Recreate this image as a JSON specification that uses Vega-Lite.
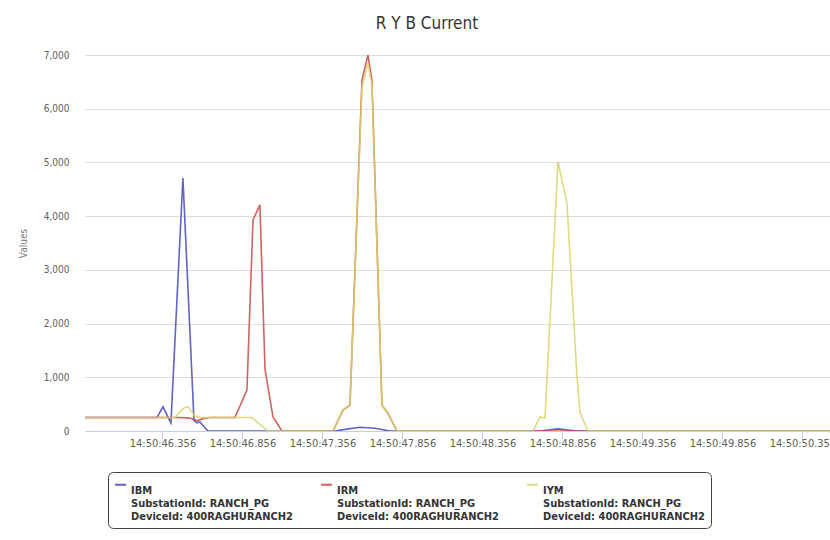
{
  "$schema": "https://vega.github.io/schema/vega-lite/v6.json",
  "width": 745,
  "height": 376,
  "autosize": {"type": "none"},
  "padding": {"left": 85, "top": 55, "right": 0, "bottom": 109},
  "background": "white",
  "title": {
    "text": "R Y B Current",
    "fontSize": 17,
    "font": "DejaVu Sans Condensed, Roboto, sans-serif",
    "fontWeight": "normal",
    "color": "#333333",
    "anchor": "middle",
    "frame": "bounds",
    "offset": 17
  },
  "data": {
    "values": [
      {"t": 45.872, "series": "IBM", "v": 250},
      {"t": 46.322, "series": "IBM", "v": 250},
      {"t": 46.359, "series": "IBM", "v": 450},
      {"t": 46.409, "series": "IBM", "v": 150},
      {"t": 46.484, "series": "IBM", "v": 4710},
      {"t": 46.553, "series": "IBM", "v": 200},
      {"t": 46.572, "series": "IBM", "v": 150},
      {"t": 46.590, "series": "IBM", "v": 170},
      {"t": 46.640, "series": "IBM", "v": 0},
      {"t": 47.434, "series": "IBM", "v": 0},
      {"t": 47.497, "series": "IBM", "v": 30},
      {"t": 47.590, "series": "IBM", "v": 70},
      {"t": 47.684, "series": "IBM", "v": 50},
      {"t": 47.778, "series": "IBM", "v": 0},
      {"t": 48.715, "series": "IBM", "v": 0},
      {"t": 48.765, "series": "IBM", "v": 20},
      {"t": 48.828, "series": "IBM", "v": 40},
      {"t": 48.890, "series": "IBM", "v": 20},
      {"t": 48.953, "series": "IBM", "v": 0},
      {"t": 50.528, "series": "IBM", "v": 0},

      {"t": 45.872, "series": "IRM", "v": 250},
      {"t": 46.465, "series": "IRM", "v": 250},
      {"t": 46.528, "series": "IRM", "v": 240},
      {"t": 46.572, "series": "IRM", "v": 190},
      {"t": 46.609, "series": "IRM", "v": 230},
      {"t": 46.653, "series": "IRM", "v": 250},
      {"t": 46.809, "series": "IRM", "v": 250},
      {"t": 46.884, "series": "IRM", "v": 760},
      {"t": 46.922, "series": "IRM", "v": 3930},
      {"t": 46.965, "series": "IRM", "v": 4210},
      {"t": 46.997, "series": "IRM", "v": 1150},
      {"t": 47.047, "series": "IRM", "v": 260},
      {"t": 47.103, "series": "IRM", "v": 0},
      {"t": 47.422, "series": "IRM", "v": 0},
      {"t": 47.484, "series": "IRM", "v": 390},
      {"t": 47.528, "series": "IRM", "v": 480},
      {"t": 47.603, "series": "IRM", "v": 6530},
      {"t": 47.640, "series": "IRM", "v": 7000},
      {"t": 47.665, "series": "IRM", "v": 6540},
      {"t": 47.728, "series": "IRM", "v": 480},
      {"t": 47.765, "series": "IRM", "v": 330},
      {"t": 47.822, "series": "IRM", "v": 0},
      {"t": 50.528, "series": "IRM", "v": 0},

      {"t": 45.872, "series": "IYM", "v": 250},
      {"t": 46.434, "series": "IYM", "v": 250},
      {"t": 46.484, "series": "IYM", "v": 420},
      {"t": 46.515, "series": "IYM", "v": 450},
      {"t": 46.559, "series": "IYM", "v": 280},
      {"t": 46.590, "series": "IYM", "v": 250},
      {"t": 46.915, "series": "IYM", "v": 250},
      {"t": 47.015, "series": "IYM", "v": 0},
      {"t": 47.422, "series": "IYM", "v": 0},
      {"t": 47.484, "series": "IYM", "v": 390},
      {"t": 47.528, "series": "IYM", "v": 480},
      {"t": 47.603, "series": "IYM", "v": 6400},
      {"t": 47.640, "series": "IYM", "v": 6850},
      {"t": 47.665, "series": "IYM", "v": 6450},
      {"t": 47.728, "series": "IYM", "v": 480},
      {"t": 47.765, "series": "IYM", "v": 330},
      {"t": 47.822, "series": "IYM", "v": 0},
      {"t": 48.672, "series": "IYM", "v": 0},
      {"t": 48.715, "series": "IYM", "v": 260},
      {"t": 48.747, "series": "IYM", "v": 240},
      {"t": 48.828, "series": "IYM", "v": 5010},
      {"t": 48.884, "series": "IYM", "v": 4250},
      {"t": 48.947, "series": "IYM", "v": 1000},
      {"t": 48.965, "series": "IYM", "v": 350},
      {"t": 49.015, "series": "IYM", "v": 0},
      {"t": 50.528, "series": "IYM", "v": 0}
    ]
  },
  "mark": {"type": "line", "strokeWidth": 1.6, "opacity": 0.85, "clip": true},
  "encoding": {
    "x": {
      "field": "t",
      "type": "quantitative",
      "title": null,
      "scale": {"domain": [45.872, 50.528], "nice": false, "zero": false},
      "axis": {
        "values": [46.356, 46.856, 47.356, 47.856, 48.356, 48.856, 49.356, 49.856, 50.356],
        "labelExpr": "'14:50:' + format(datum.value, '.3f')",
        "labelFont": "DejaVu Sans Condensed, Roboto, sans-serif",
        "labelFontSize": 11,
        "labelColor": "#606060",
        "labelPadding": -2,
        "labelFlush": false,
        "labelOverlap": false,
        "labelBound": false,
        "grid": false,
        "domainColor": "#c0d0e0",
        "tickColor": "#c0d0e0",
        "tickSize": 8
      }
    },
    "y": {
      "field": "v",
      "type": "quantitative",
      "title": "Values",
      "scale": {"domain": [0, 7000], "nice": false},
      "axis": {
        "values": [0, 1000, 2000, 3000, 4000, 5000, 6000, 7000],
        "format": ",d",
        "labelFont": "DejaVu Sans Condensed, Roboto, sans-serif",
        "labelFontSize": 10,
        "labelColor": "#606060",
        "labelPadding": 16,
        "ticks": false,
        "domain": false,
        "gridColor": "#dcdcdc",
        "titleFont": "DejaVu Sans Condensed, Roboto, sans-serif",
        "titleFontSize": 10,
        "titleFontWeight": "normal",
        "titleColor": "#777777",
        "titlePadding": 15
      }
    },
    "color": {
      "field": "series",
      "type": "nominal",
      "scale": {"domain": ["IBM", "IRM", "IYM"], "range": ["#4646ba", "#c84646", "#d8d46a"]},
      "legend": {
        "title": null,
        "orient": "none",
        "legendX": 23,
        "legendY": 417,
        "direction": "horizontal",
        "columns": 3,
        "symbolType": "stroke",
        "symbolSize": 120,
        "symbolStrokeWidth": 2,
        "labelExpr": "[datum.label, 'SubstationId: RANCH_PG', 'DeviceId: 400RAGHURANCH2']",
        "labelFont": "DejaVu Sans Condensed, Roboto, sans-serif",
        "labelFontSize": 11,
        "labelFontWeight": "bold",
        "labelColor": "#333333",
        "labelLimit": 300,
        "labelBaseline": "top",
        "columnPadding": 24,
        "padding": 6,
        "strokeColor": "#444444",
        "cornerRadius": 5,
        "fillColor": "white",
        "encode": {
          "legend": {"update": {"strokeWidth": {"value": 1.5}}},
          "labels": {"update": {"lineHeight": {"value": 16}, "dy": {"value": -6}}}
        }
      }
    }
  },
  "config": {"view": {"stroke": null}}
}
